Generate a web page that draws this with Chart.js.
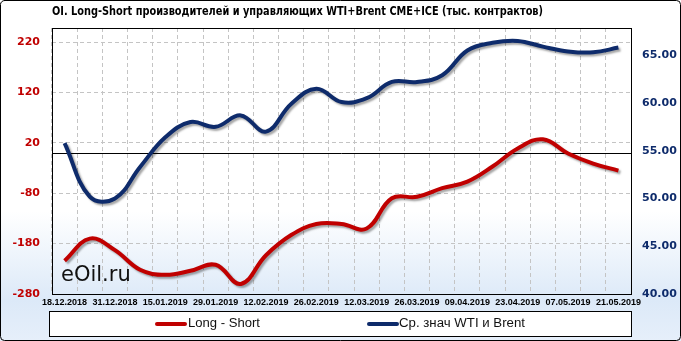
<!DOCTYPE html>
<html>
<head>
<meta charset="utf-8">
<script src="https://cdn.jsdelivr.net/npm/chart.js@4"></script>
<style>
  html, body { margin: 0; padding: 0; background: #fff; }
  #wrap { position: relative; width: 681px; height: 341px; }
</style>
</head>
<body>
<div id="wrap"><canvas id="oiChart" width="681" height="341"></canvas></div>
<script>
// weekly COT dates (every second one is labelled)
const dates = ['18.12.2018', '24.12.2018', '31.12.2018', '08.01.2019', '15.01.2019', '22.01.2019',
    '29.01.2019', '05.02.2019', '12.02.2019', '19.02.2019', '26.02.2019', '05.03.2019',
    '12.03.2019', '19.03.2019', '26.03.2019', '02.04.2019', '09.04.2019', '16.04.2019',
    '23.04.2019', '30.04.2019', '07.05.2019', '14.05.2019', '21.05.2019'];

// Long - Short, thousand contracts (left axis)
const longShort = [-214, -170, -193, -232, -242, -234, -222, -260, -203, -163, -141, -141,
    -150, -90, -87, -70, -57, -27, 9, 27, -1, -21, -35];

// average WTI & Brent price (right axis)
const avgPrice = [55.8, 50.2, 50.0, 53.3, 56.4, 58.0, 57.5, 58.7, 57.0, 59.9, 61.5, 60.1,
    60.5, 62.2, 62.2, 62.9, 65.5, 66.3, 66.5, 65.9, 65.4, 65.3, 65.8];

const leftTicks = [-280, -180, -80, 20, 120, 220];
const rightTicks = [40, 45, 50, 55, 60, 65];

const titleText = 'OI. Long-Short производителей и управляющих WTI+Brent CME+ICE (тыс. контрактов)';
const seriesNames = ['Long - Short', 'Ср. знач WTI и Brent'];

const RED = '#c00000';
const NAVY = '#0e2b6b';

// draw text squeezed/stretched to a given width
function fitText(ctx, text, x, y, width) {
    const w = ctx.measureText(text).width;
    ctx.save();
    ctx.translate(x, y);
    ctx.scale(width / w, 1);
    ctx.fillText(text, 0, 0);
    ctx.restore();
}

const decor = {
    id: 'decor',
    beforeDraw: (chart) => {
        const ctx = chart.ctx;
        const W = chart.width, H = chart.height;
        ctx.save();
        const g = ctx.createLinearGradient(0, 0, 0, H);
        g.addColorStop(0, '#ffffff');
        g.addColorStop(0.62, '#ffffff');
        g.addColorStop(0.88, '#dce9f8');
        g.addColorStop(1, '#e6effa');
        ctx.fillStyle = g;
        ctx.fillRect(0, 0, W, H);
        ctx.restore();
    },
    beforeDatasetsDraw: (chart) => {
        const ctx = chart.ctx;
        const a = chart.chartArea;
        const y0 = chart.scales.y.getPixelForValue(0);
        ctx.save();
        ctx.strokeStyle = '#000';
        ctx.lineWidth = 1;
        ctx.beginPath();
        ctx.moveTo(a.left, Math.round(y0) + 0.5);
        ctx.lineTo(a.right, Math.round(y0) + 0.5);
        ctx.stroke();
        ctx.restore();
        // drop shadow for the lines
        ctx.save();
        ctx.shadowColor = 'rgba(0,0,0,0.35)';
        ctx.shadowOffsetX = 2;
        ctx.shadowOffsetY = 2;
        ctx.shadowBlur = 2;
    },
    afterDatasetsDraw: (chart) => {
        const ctx = chart.ctx;
        ctx.restore();
        const a = chart.chartArea;
        ctx.save();
        // plot frame
        ctx.strokeStyle = '#000';
        ctx.lineWidth = 1;
        ctx.strokeRect(Math.round(a.left) + 0.5, Math.round(a.top) + 0.5,
            Math.round(a.right - a.left), Math.round(a.bottom - a.top));
        // watermark
        ctx.fillStyle = '#111';
        ctx.font = '21px "DejaVu Sans", sans-serif';
        ctx.textBaseline = 'alphabetic';
        ctx.fillText('eOil.ru', 61, 281);
        ctx.restore();
    },
    afterDraw: (chart) => {
        const ctx = chart.ctx;
        const W = chart.width, H = chart.height;
        ctx.save();
        // title
        ctx.fillStyle = '#000';
        ctx.font = 'bold 12px "DejaVu Sans Condensed", "DejaVu Sans", sans-serif';
        ctx.textBaseline = 'middle';
        fitText(ctx, titleText, 52, 12, 491);

        // legend box
        ctx.fillStyle = '#ffffff';
        ctx.fillRect(49, 311, 582, 25);
        ctx.strokeStyle = '#000';
        ctx.lineWidth = 1;
        ctx.strokeRect(49.5, 311.5, 582, 25);

        const items = [
            { name: seriesNames[0], color: RED, x: 157, tx: 188, tw: 72 },
            { name: seriesNames[1], color: NAVY, x: 369, tx: 399, tw: 126 }
        ];
        ctx.font = '12.5px "Liberation Sans", sans-serif';
        items.forEach(it => {
            ctx.strokeStyle = it.color;
            ctx.lineWidth = 4;
            ctx.lineCap = 'round';
            ctx.beginPath();
            ctx.moveTo(it.x, 324);
            ctx.lineTo(it.x + 28, 324);
            ctx.stroke();
            ctx.fillStyle = '#111';
            fitText(ctx, it.name, it.tx, 324, it.tw);
        });

        // outer frame
        ctx.strokeStyle = '#000';
        ctx.lineWidth = 1;
        ctx.beginPath();
        ctx.roundRect(0.5, 0.5, W - 1, H - 1, 4);
        ctx.stroke();
        ctx.restore();
    }
};

new Chart(document.getElementById('oiChart').getContext('2d'), {
    type: 'line',
    data: {
        labels: dates,
        datasets: [{
            label: seriesNames[0],
            data: longShort,
            yAxisID: 'y',
            borderColor: RED,
            borderWidth: 4,
            pointRadius: 0,
            tension: 0.4,
            fill: false
        }, {
            label: seriesNames[1],
            data: avgPrice,
            yAxisID: 'y1',
            borderColor: NAVY,
            borderWidth: 4,
            pointRadius: 0,
            tension: 0.4,
            fill: false
        }]
    },
    options: {
        responsive: false,
        animation: false,
        layout: { padding: { top: 28, bottom: 31, left: 0, right: 0 } },
        plugins: {
            legend: { display: false },
            title: { display: false },
            tooltip: { enabled: false }
        },
        scales: {
            x: {
                offset: true,
                grid: {
                    offset: true,
                    color: '#c4c4c4',
                    drawTicks: false
                },
                border: { display: false, dash: [4, 3] },
                ticks: {
                    autoSkip: false,
                    maxRotation: 0,
                    padding: 3,
                    color: '#000',
                    font: { family: '"Liberation Sans", sans-serif', size: 9, weight: 'bold' },
                    callback: (v, i) => (i % 2 === 0 ? dates[i] : '')
                },
                afterFit: (s) => { s.height = 16; }
            },
            y: {
                position: 'left',
                min: -280,
                max: 248,
                afterBuildTicks: (s) => { s.ticks = leftTicks.map(v => ({ value: v })); },
                grid: { color: '#c4c4c4', drawTicks: false },
                border: { display: false, dash: [4, 3] },
                ticks: {
                    padding: 12,
                    color: RED,
                    font: { family: '"DejaVu Sans", sans-serif', size: 11, weight: 'bold' }
                },
                afterFit: (s) => { s.width = 52; }
            },
            y1: {
                position: 'right',
                min: 40,
                max: 67.85,
                afterBuildTicks: (s) => { s.ticks = rightTicks.map(v => ({ value: v })); },
                grid: { drawOnChartArea: false, drawTicks: false },
                border: { display: false },
                ticks: {
                    padding: 11,
                    color: NAVY,
                    font: { family: '"DejaVu Sans", sans-serif', size: 11, weight: 'bold' },
                    callback: (v) => v.toFixed(2)
                },
                afterFit: (s) => { s.width = 50; }
            }
        }
    },
    plugins: [decor]
});
</script>
</body>
</html>
